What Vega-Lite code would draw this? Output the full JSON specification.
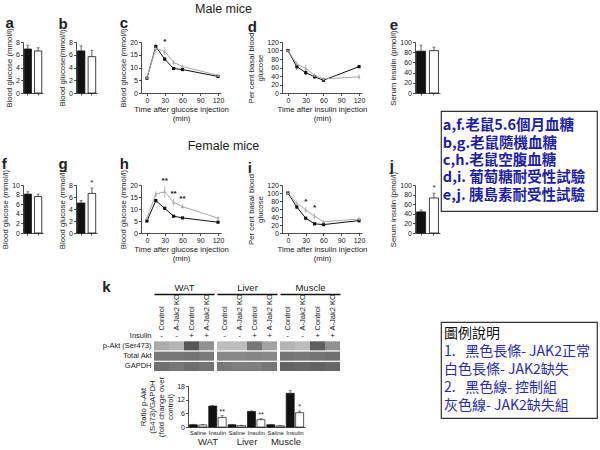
{
 "$schema": "https://vega.github.io/schema/vega-lite/v6.json",
 "padding": {"left": 1, "top": 2, "right": 0, "bottom": 0},
 "background": "white",
 "spacing": 0,
 "resolve": {"scale": {"color": "independent"}},
 "hconcat": [
  {"spacing": 0, "vconcat": [
   {"columns": 9, "align": "none", "bounds": "flush", "spacing": 0, "concat": [
    {"title": "a", "width": 20, "height": 51,
     "data": {"values": [{"g": "Control", "v": 6.9, "hi": 7.5, "sig": ""}, {"g": "KO", "v": 6.6, "hi": 7.1, "sig": ""}]},
     "encoding": {"x": {"field": "g", "type": "nominal", "scale": {"domain": ["Control", "KO"], "paddingInner": 0.3, "paddingOuter": 0.12}, "axis": {"labels": false, "title": null, "tickSize": 2}},
       "y": {"field": "v", "type": "quantitative", "scale": {"domain": [0, 8]}, "axis": {"values": [0, 2, 4, 6, 8], "title": "Blood glucose (mmol/l)"}}},
     "layer": [
      {"mark": {"type": "bar", "stroke": "#111", "strokeWidth": 0.8}, "encoding": {"fill": {"field": "g", "type": "nominal", "scale": {"domain": ["Control", "KO"], "range": ["#111111", "#ffffff"]}, "legend": null}}},
      {"mark": {"type": "rule", "color": "#333", "strokeWidth": 0.8}, "encoding": {"y2": {"field": "hi"}}},
      {"mark": {"type": "tick", "color": "#333", "thickness": 0.8, "size": 3}, "encoding": {"y": {"field": "hi", "type": "quantitative"}}},
      {"mark": {"type": "text", "baseline": "bottom", "dy": -1, "fontSize": 8, "color": "#222"}, "encoding": {"y": {"field": "hi", "type": "quantitative"}, "text": {"field": "sig"}}}
     ]},
    {"width": 33, "height": 1, "data": {"values": []}, "mark": "point", "encoding": {}},
    {"title": "b", "width": 21, "height": 51,
     "data": {"values": [{"g": "Control", "v": 6.6, "hi": 7.4, "sig": ""}, {"g": "KO", "v": 5.7, "hi": 6.7, "sig": ""}]},
     "encoding": {"x": {"field": "g", "type": "nominal", "scale": {"domain": ["Control", "KO"], "paddingInner": 0.3, "paddingOuter": 0.12}, "axis": {"labels": false, "title": null, "tickSize": 2}},
       "y": {"field": "v", "type": "quantitative", "scale": {"domain": [0, 8]}, "axis": {"values": [0, 2, 4, 6, 8], "title": "Blood glucose(mmol/l)"}}},
     "layer": [
      {"mark": {"type": "bar", "stroke": "#111", "strokeWidth": 0.8}, "encoding": {"fill": {"field": "g", "type": "nominal", "scale": {"domain": ["Control", "KO"], "range": ["#111111", "#ffffff"]}, "legend": null}}},
      {"mark": {"type": "rule", "color": "#333", "strokeWidth": 0.8}, "encoding": {"y2": {"field": "hi"}}},
      {"mark": {"type": "tick", "color": "#333", "thickness": 0.8, "size": 3}, "encoding": {"y": {"field": "hi", "type": "quantitative"}}},
      {"mark": {"type": "text", "baseline": "bottom", "dy": -1, "fontSize": 8, "color": "#222"}, "encoding": {"y": {"field": "hi", "type": "quantitative"}, "text": {"field": "sig"}}}
     ]},
    {"width": 44, "height": 1, "data": {"values": []}, "mark": "point", "encoding": {}},
    {"title": "c", "width": 80, "height": 51,
     "data": {"values": [
      {"t": 0, "g": "Control", "v": 5.8, "lo": 5.4, "hi": 6.2, "sig": ""},
      {"t": 15, "g": "Control", "v": 18.2, "lo": 17.4, "hi": 19.0, "sig": ""},
      {"t": 30, "g": "Control", "v": 13.3, "lo": 12.6, "hi": 14.0, "sig": ""},
      {"t": 45, "g": "Control", "v": 9.6, "lo": 9.0, "hi": 10.2, "sig": ""},
      {"t": 60, "g": "Control", "v": 9.2, "lo": 8.7, "hi": 9.7, "sig": ""},
      {"t": 120, "g": "Control", "v": 6.5, "lo": 6.0, "hi": 7.0, "sig": ""},
      {"t": 0, "g": "KO", "v": 6.1, "lo": 5.6, "hi": 6.6, "sig": ""},
      {"t": 15, "g": "KO", "v": 17.6, "lo": 15.8, "hi": 19.5, "sig": ""},
      {"t": 30, "g": "KO", "v": 16.3, "lo": 14.8, "hi": 18.0, "sig": "*"},
      {"t": 45, "g": "KO", "v": 12.0, "lo": 11.0, "hi": 13.0, "sig": ""},
      {"t": 60, "g": "KO", "v": 10.4, "lo": 9.6, "hi": 11.2, "sig": ""},
      {"t": 120, "g": "KO", "v": 6.9, "lo": 6.3, "hi": 7.5, "sig": ""}]},
     "encoding": {
      "x": {"field": "t", "type": "quantitative", "scale": {"domain": [-10, 125], "nice": false}, "axis": {"values": [0, 30, 60, 90, 120], "title": ["Time after glucose injection", "(min)"]}},
      "y": {"field": "v", "type": "quantitative", "scale": {"domain": [0, 20]}, "axis": {"values": [0, 5, 10, 15, 20], "title": "Blood glucose (mmol/l)"}},
      "color": {"field": "g", "type": "nominal", "scale": {"domain": ["Control", "KO"], "range": ["#111111", "#aaaaaa"]}, "legend": null}},
     "layer": [
      {"mark": {"type": "rule", "strokeWidth": 0.8}, "encoding": {"y": {"field": "lo", "type": "quantitative"}, "y2": {"field": "hi"}}},
      {"mark": {"type": "line", "strokeWidth": 1}},
      {"mark": {"type": "point", "filled": true, "size": 10, "opacity": 1}, "encoding": {"shape": {"field": "g", "type": "nominal", "scale": {"domain": ["Control", "KO"], "range": ["square", "triangle-up"]}, "legend": null}}},
      {"mark": {"type": "text", "baseline": "bottom", "dy": -1, "fontSize": 8, "fontWeight": "bold"}, "encoding": {"y": {"field": "hi", "type": "quantitative"}, "text": {"field": "sig"}, "color": {"value": "#111"}}}
     ]},
    {"width": 61, "height": 1, "data": {"values": []}, "mark": "point", "encoding": {},
     "title": {"text": "Male mice", "anchor": "middle", "frame": "group", "orient": "top", "offset": 27, "fontSize": 12.5, "fontWeight": "normal", "dx": -28}},
    {"title": "d", "width": 80, "height": 51,
     "data": {"values": [
      {"t": 0, "g": "Control", "v": 100, "lo": 100, "hi": 100, "sig": ""},
      {"t": 15, "g": "Control", "v": 62, "lo": 55, "hi": 69, "sig": ""},
      {"t": 30, "g": "Control", "v": 48, "lo": 42, "hi": 54, "sig": ""},
      {"t": 45, "g": "Control", "v": 38, "lo": 34, "hi": 42, "sig": ""},
      {"t": 60, "g": "Control", "v": 30, "lo": 27, "hi": 33, "sig": ""},
      {"t": 120, "g": "Control", "v": 62, "lo": 59, "hi": 65, "sig": ""},
      {"t": 0, "g": "KO", "v": 100, "lo": 100, "hi": 100, "sig": ""},
      {"t": 15, "g": "KO", "v": 68, "lo": 62, "hi": 75, "sig": ""},
      {"t": 30, "g": "KO", "v": 58, "lo": 50, "hi": 66, "sig": ""},
      {"t": 45, "g": "KO", "v": 42, "lo": 37, "hi": 47, "sig": ""},
      {"t": 60, "g": "KO", "v": 33, "lo": 29, "hi": 37, "sig": ""},
      {"t": 120, "g": "KO", "v": 38, "lo": 32, "hi": 44, "sig": ""}]},
     "encoding": {
      "x": {"field": "t", "type": "quantitative", "scale": {"domain": [-10, 125], "nice": false}, "axis": {"values": [0, 30, 60, 90, 120], "title": ["Time after insulin injection", "(min)"]}},
      "y": {"field": "v", "type": "quantitative", "scale": {"domain": [0, 120]}, "axis": {"values": [0, 20, 40, 60, 80, 100, 120], "title": ["Per cent basal blood", "glucose"]}},
      "color": {"field": "g", "type": "nominal", "scale": {"domain": ["Control", "KO"], "range": ["#111111", "#aaaaaa"]}, "legend": null}},
     "layer": [
      {"mark": {"type": "rule", "strokeWidth": 0.8}, "encoding": {"y": {"field": "lo", "type": "quantitative"}, "y2": {"field": "hi"}}},
      {"mark": {"type": "line", "strokeWidth": 1}},
      {"mark": {"type": "point", "filled": true, "size": 10, "opacity": 1}, "encoding": {"shape": {"field": "g", "type": "nominal", "scale": {"domain": ["Control", "KO"], "range": ["square", "triangle-up"]}, "legend": null}}},
      {"mark": {"type": "text", "baseline": "bottom", "dy": -1, "fontSize": 8, "fontWeight": "bold"}, "encoding": {"y": {"field": "hi", "type": "quantitative"}, "text": {"field": "sig"}, "color": {"value": "#111"}}}
     ]},
    {"width": 53, "height": 1, "data": {"values": []}, "mark": "point", "encoding": {}},
    {"title": "e", "width": 25, "height": 51,
     "data": {"values": [{"g": "Control", "v": 82, "hi": 94, "sig": ""}, {"g": "KO", "v": 83, "hi": 90, "sig": ""}]},
     "encoding": {"x": {"field": "g", "type": "nominal", "scale": {"domain": ["Control", "KO"], "paddingInner": 0.3, "paddingOuter": 0.12}, "axis": {"labels": false, "title": null, "tickSize": 2}},
       "y": {"field": "v", "type": "quantitative", "scale": {"domain": [0, 100]}, "axis": {"values": [0, 20, 40, 60, 80, 100], "title": "Serum insulin (pmol/l)"}}},
     "layer": [
      {"mark": {"type": "bar", "stroke": "#111", "strokeWidth": 0.8}, "encoding": {"fill": {"field": "g", "type": "nominal", "scale": {"domain": ["Control", "KO"], "range": ["#111111", "#ffffff"]}, "legend": null}}},
      {"mark": {"type": "rule", "color": "#333", "strokeWidth": 0.8}, "encoding": {"y2": {"field": "hi"}}},
      {"mark": {"type": "tick", "color": "#333", "thickness": 0.8, "size": 3}, "encoding": {"y": {"field": "hi", "type": "quantitative"}}},
      {"mark": {"type": "text", "baseline": "bottom", "dy": -1, "fontSize": 8, "color": "#222"}, "encoding": {"y": {"field": "hi", "type": "quantitative"}, "text": {"field": "sig"}}}
     ]},

    {"width": 20, "height": 92, "data": {"values": []}, "mark": "point", "encoding": {}},
    {"width": 33, "height": 1, "data": {"values": []}, "mark": "point", "encoding": {}},
    {"width": 21, "height": 1, "data": {"values": []}, "mark": "point", "encoding": {}},
    {"width": 44, "height": 1, "data": {"values": []}, "mark": "point", "encoding": {}},
    {"width": 80, "height": 1, "data": {"values": []}, "mark": "point", "encoding": {}},
    {"width": 61, "height": 1, "data": {"values": []}, "mark": "point", "encoding": {},
     "title": {"text": "Female mice", "anchor": "middle", "frame": "group", "orient": "bottom", "offset": 46, "fontSize": 12.5, "fontWeight": "normal", "dx": -28}},
    {"width": 80, "height": 1, "data": {"values": []}, "mark": "point", "encoding": {}},
    {"width": 53, "height": 1, "data": {"values": []}, "mark": "point", "encoding": {}},
    {"width": 25, "height": 1, "data": {"values": []}, "mark": "point", "encoding": {}},

    {"title": "f", "width": 20, "height": 48,
     "data": {"values": [{"g": "Control", "v": 8.1, "hi": 8.6, "sig": ""}, {"g": "KO", "v": 7.6, "hi": 8.1, "sig": ""}]},
     "encoding": {"x": {"field": "g", "type": "nominal", "scale": {"domain": ["Control", "KO"], "paddingInner": 0.3, "paddingOuter": 0.12}, "axis": {"labels": false, "title": null, "tickSize": 2}},
       "y": {"field": "v", "type": "quantitative", "scale": {"domain": [0, 10]}, "axis": {"values": [0, 2, 4, 6, 8, 10], "title": "Blood glucose (mmol/l)"}}},
     "layer": [
      {"mark": {"type": "bar", "stroke": "#111", "strokeWidth": 0.8}, "encoding": {"fill": {"field": "g", "type": "nominal", "scale": {"domain": ["Control", "KO"], "range": ["#111111", "#ffffff"]}, "legend": null}}},
      {"mark": {"type": "rule", "color": "#333", "strokeWidth": 0.8}, "encoding": {"y2": {"field": "hi"}}},
      {"mark": {"type": "tick", "color": "#333", "thickness": 0.8, "size": 3}, "encoding": {"y": {"field": "hi", "type": "quantitative"}}},
      {"mark": {"type": "text", "baseline": "bottom", "dy": -1, "fontSize": 8, "color": "#222"}, "encoding": {"y": {"field": "hi", "type": "quantitative"}, "text": {"field": "sig"}}}
     ]},
    {"width": 33, "height": 1, "data": {"values": []}, "mark": "point", "encoding": {}},
    {"title": "g", "width": 21, "height": 48,
     "data": {"values": [{"g": "Control", "v": 5.0, "hi": 5.4, "sig": ""}, {"g": "KO", "v": 6.6, "hi": 7.5, "sig": "*"}]},
     "encoding": {"x": {"field": "g", "type": "nominal", "scale": {"domain": ["Control", "KO"], "paddingInner": 0.3, "paddingOuter": 0.12}, "axis": {"labels": false, "title": null, "tickSize": 2}},
       "y": {"field": "v", "type": "quantitative", "scale": {"domain": [0, 8]}, "axis": {"values": [0, 2, 4, 6, 8], "title": "Blood glucose (mmol/l)"}}},
     "layer": [
      {"mark": {"type": "bar", "stroke": "#111", "strokeWidth": 0.8}, "encoding": {"fill": {"field": "g", "type": "nominal", "scale": {"domain": ["Control", "KO"], "range": ["#111111", "#ffffff"]}, "legend": null}}},
      {"mark": {"type": "rule", "color": "#333", "strokeWidth": 0.8}, "encoding": {"y2": {"field": "hi"}}},
      {"mark": {"type": "tick", "color": "#333", "thickness": 0.8, "size": 3}, "encoding": {"y": {"field": "hi", "type": "quantitative"}}},
      {"mark": {"type": "text", "baseline": "bottom", "dy": -1, "fontSize": 8, "color": "#222"}, "encoding": {"y": {"field": "hi", "type": "quantitative"}, "text": {"field": "sig"}}}
     ]},
    {"width": 44, "height": 1, "data": {"values": []}, "mark": "point", "encoding": {}},
    {"title": "h", "width": 80, "height": 48,
     "data": {"values": [
      {"t": 0, "g": "Control", "v": 5.0, "lo": 4.7, "hi": 5.3, "sig": ""},
      {"t": 15, "g": "Control", "v": 13.5, "lo": 12.7, "hi": 14.3, "sig": ""},
      {"t": 30, "g": "Control", "v": 10.3, "lo": 9.8, "hi": 10.8, "sig": ""},
      {"t": 45, "g": "Control", "v": 7.0, "lo": 6.7, "hi": 7.3, "sig": ""},
      {"t": 60, "g": "Control", "v": 6.3, "lo": 6.0, "hi": 6.6, "sig": ""},
      {"t": 120, "g": "Control", "v": 4.5, "lo": 4.2, "hi": 4.8, "sig": ""},
      {"t": 0, "g": "KO", "v": 6.2, "lo": 5.7, "hi": 6.7, "sig": ""},
      {"t": 15, "g": "KO", "v": 16.2, "lo": 15.0, "hi": 17.4, "sig": ""},
      {"t": 30, "g": "KO", "v": 17.2, "lo": 14.7, "hi": 19.7, "sig": "**"},
      {"t": 45, "g": "KO", "v": 12.8, "lo": 11.3, "hi": 14.3, "sig": "**"},
      {"t": 60, "g": "KO", "v": 11.0, "lo": 10.0, "hi": 12.0, "sig": "**"},
      {"t": 120, "g": "KO", "v": 6.2, "lo": 5.6, "hi": 6.8, "sig": ""}]},
     "encoding": {
      "x": {"field": "t", "type": "quantitative", "scale": {"domain": [-10, 125], "nice": false}, "axis": {"values": [0, 30, 60, 90, 120], "title": ["Time after glucose injection", "(min)"]}},
      "y": {"field": "v", "type": "quantitative", "scale": {"domain": [0, 20]}, "axis": {"values": [0, 5, 10, 15, 20], "title": "Blood glucose (mmol/l)"}},
      "color": {"field": "g", "type": "nominal", "scale": {"domain": ["Control", "KO"], "range": ["#111111", "#aaaaaa"]}, "legend": null}},
     "layer": [
      {"mark": {"type": "rule", "strokeWidth": 0.8}, "encoding": {"y": {"field": "lo", "type": "quantitative"}, "y2": {"field": "hi"}}},
      {"mark": {"type": "line", "strokeWidth": 1}},
      {"mark": {"type": "point", "filled": true, "size": 10, "opacity": 1}, "encoding": {"shape": {"field": "g", "type": "nominal", "scale": {"domain": ["Control", "KO"], "range": ["square", "triangle-up"]}, "legend": null}}},
      {"mark": {"type": "text", "baseline": "bottom", "dy": -1, "fontSize": 8, "fontWeight": "bold"}, "encoding": {"y": {"field": "hi", "type": "quantitative"}, "text": {"field": "sig"}, "color": {"value": "#111"}}}
     ]},
    {"width": 61, "height": 1, "data": {"values": []}, "mark": "point", "encoding": {}},
    {"title": "i", "width": 80, "height": 48,
     "data": {"values": [
      {"t": 0, "g": "Control", "v": 100, "lo": 100, "hi": 100, "sig": ""},
      {"t": 15, "g": "Control", "v": 65, "lo": 61, "hi": 69, "sig": ""},
      {"t": 30, "g": "Control", "v": 37, "lo": 34, "hi": 40, "sig": ""},
      {"t": 45, "g": "Control", "v": 23, "lo": 21, "hi": 25, "sig": ""},
      {"t": 60, "g": "Control", "v": 21, "lo": 19, "hi": 23, "sig": ""},
      {"t": 120, "g": "Control", "v": 31, "lo": 26, "hi": 36, "sig": ""},
      {"t": 0, "g": "KO", "v": 100, "lo": 100, "hi": 100, "sig": ""},
      {"t": 15, "g": "KO", "v": 75, "lo": 69, "hi": 81, "sig": ""},
      {"t": 30, "g": "KO", "v": 58, "lo": 50, "hi": 66, "sig": "*"},
      {"t": 45, "g": "KO", "v": 42, "lo": 35, "hi": 49, "sig": "*"},
      {"t": 60, "g": "KO", "v": 28, "lo": 24, "hi": 32, "sig": ""},
      {"t": 120, "g": "KO", "v": 35, "lo": 29, "hi": 41, "sig": ""}]},
     "encoding": {
      "x": {"field": "t", "type": "quantitative", "scale": {"domain": [-10, 125], "nice": false}, "axis": {"values": [0, 30, 60, 90, 120], "title": ["Time after insulin injection", "(min)"]}},
      "y": {"field": "v", "type": "quantitative", "scale": {"domain": [0, 120]}, "axis": {"values": [0, 20, 40, 60, 80, 100, 120], "title": ["Per cent basal blood", "glucose"]}},
      "color": {"field": "g", "type": "nominal", "scale": {"domain": ["Control", "KO"], "range": ["#111111", "#aaaaaa"]}, "legend": null}},
     "layer": [
      {"mark": {"type": "rule", "strokeWidth": 0.8}, "encoding": {"y": {"field": "lo", "type": "quantitative"}, "y2": {"field": "hi"}}},
      {"mark": {"type": "line", "strokeWidth": 1}},
      {"mark": {"type": "point", "filled": true, "size": 10, "opacity": 1}, "encoding": {"shape": {"field": "g", "type": "nominal", "scale": {"domain": ["Control", "KO"], "range": ["square", "triangle-up"]}, "legend": null}}},
      {"mark": {"type": "text", "baseline": "bottom", "dy": -1, "fontSize": 8, "fontWeight": "bold"}, "encoding": {"y": {"field": "hi", "type": "quantitative"}, "text": {"field": "sig"}, "color": {"value": "#111"}}}
     ]},
    {"width": 53, "height": 1, "data": {"values": []}, "mark": "point", "encoding": {}},
    {"title": "j", "width": 25, "height": 48,
     "data": {"values": [{"g": "Control", "v": 44, "hi": 48, "sig": ""}, {"g": "KO", "v": 73, "hi": 83, "sig": "*"}]},
     "encoding": {"x": {"field": "g", "type": "nominal", "scale": {"domain": ["Control", "KO"], "paddingInner": 0.3, "paddingOuter": 0.12}, "axis": {"labels": false, "title": null, "tickSize": 2}},
       "y": {"field": "v", "type": "quantitative", "scale": {"domain": [0, 100]}, "axis": {"values": [0, 20, 40, 60, 80, 100], "title": "Serum insulin (pmol/l)"}}},
     "layer": [
      {"mark": {"type": "bar", "stroke": "#111", "strokeWidth": 0.8}, "encoding": {"fill": {"field": "g", "type": "nominal", "scale": {"domain": ["Control", "KO"], "range": ["#111111", "#ffffff"]}, "legend": null}}},
      {"mark": {"type": "rule", "color": "#333", "strokeWidth": 0.8}, "encoding": {"y2": {"field": "hi"}}},
      {"mark": {"type": "tick", "color": "#333", "thickness": 0.8, "size": 3}, "encoding": {"y": {"field": "hi", "type": "quantitative"}}},
      {"mark": {"type": "text", "baseline": "bottom", "dy": -1, "fontSize": 8, "color": "#222"}, "encoding": {"y": {"field": "hi", "type": "quantitative"}, "text": {"field": "sig"}}}
     ]}
   ]},
   {"width": 1, "height": 17, "data": {"values": []}, "mark": "point", "encoding": {}},
   {"bounds": "flush", "spacing": 0, "hconcat": [
    {"width": 131, "height": 1, "data": {"values": []}, "mark": "point", "encoding": {}},
    {"width": 60, "height": 40,
     "title": {"text": "k", "dy": 19, "offset": 6},
     "layer": [
      {"layer": [
        {"data": {"values": [
          {"lane": "C1", "row": "p-Akt (Ser473)", "int": 0.3}, {"lane": "K1", "row": "p-Akt (Ser473)", "int": 0.25}, {"lane": "C2", "row": "p-Akt (Ser473)", "int": 0.8}, {"lane": "K2", "row": "p-Akt (Ser473)", "int": 0.45},
          {"lane": "C1", "row": "Total Akt", "int": 0.6}, {"lane": "K1", "row": "Total Akt", "int": 0.6}, {"lane": "C2", "row": "Total Akt", "int": 0.62}, {"lane": "K2", "row": "Total Akt", "int": 0.58},
          {"lane": "C1", "row": "GAPDH", "int": 0.65}, {"lane": "K1", "row": "GAPDH", "int": 0.6}, {"lane": "C2", "row": "GAPDH", "int": 0.66}, {"lane": "K2", "row": "GAPDH", "int": 0.62}]},
         "mark": {"type": "rect"},
         "encoding": {
          "x": {"field": "lane", "type": "nominal", "scale": {"domain": ["C1", "K1", "C2", "K2"], "paddingInner": 0, "paddingOuter": 0}, "axis": {"orient": "top", "labelAngle": -90, "labelAlign": "left", "labelBaseline": "middle", "labelExpr": "indexof(datum.value, 'C') == 0 ? 'Control' : 'A-Jak2 KO'", "title": null, "domain": false, "ticks": false, "labelFontSize": 7.5, "labelPadding": 1}},
          "y": {"field": "row", "type": "nominal", "scale": {"domain": ["Insulin", "p-Akt (Ser473)", "Total Akt", "GAPDH"], "paddingInner": 0.12, "paddingOuter": 0}, "axis": {"title": null, "domain": false, "ticks": false, "labelFontSize": 7.5, "labelPadding": 3}},
          "fill": {"field": "int", "type": "quantitative", "scale": {"domain": [0, 1], "range": ["#e2e2e2", "#383838"]}, "legend": null}}},
        {"data": {"values": [{"lane": "C1", "ins": "-"}, {"lane": "K1", "ins": "-"}, {"lane": "C2", "ins": "+"}, {"lane": "K2", "ins": "+"}]},
         "mark": {"type": "text", "fontSize": 8, "color": "#222"},
         "encoding": {"x": {"field": "lane", "type": "nominal"}, "y": {"datum": "Insulin"}, "text": {"field": "ins"}}}
      ]},
      {"data": {"values": [{"grp": "WAT"}]},
       "mark": {"type": "text"},
       "encoding": {"x": {"field": "grp", "type": "nominal", "axis": {"orient": "top", "offset": 37, "domain": true, "domainWidth": 1.3, "domainColor": "#111", "ticks": false, "labels": false, "title": "WAT", "titleFontSize": 9.5, "titlePadding": 2}}}}
     ],
     "resolve": {"scale": {"x": "independent"}, "axis": {"x": "independent"}}},
    {"width": 3, "height": 1, "data": {"values": []}, "mark": "point", "encoding": {}},
    {"width": 60, "height": 40,
     "layer": [
      {"layer": [
        {"data": {"values": [
          {"lane": "C1", "row": "p-Akt (Ser473)", "int": 0.2}, {"lane": "K1", "row": "p-Akt (Ser473)", "int": 0.2}, {"lane": "C2", "row": "p-Akt (Ser473)", "int": 0.6}, {"lane": "K2", "row": "p-Akt (Ser473)", "int": 0.35},
          {"lane": "C1", "row": "Total Akt", "int": 0.5}, {"lane": "K1", "row": "Total Akt", "int": 0.5}, {"lane": "C2", "row": "Total Akt", "int": 0.52}, {"lane": "K2", "row": "Total Akt", "int": 0.5},
          {"lane": "C1", "row": "GAPDH", "int": 0.58}, {"lane": "K1", "row": "GAPDH", "int": 0.55}, {"lane": "C2", "row": "GAPDH", "int": 0.56}, {"lane": "K2", "row": "GAPDH", "int": 0.6}]},
         "mark": {"type": "rect"},
         "encoding": {
          "x": {"field": "lane", "type": "nominal", "scale": {"domain": ["C1", "K1", "C2", "K2"], "paddingInner": 0, "paddingOuter": 0}, "axis": {"orient": "top", "labelAngle": -90, "labelAlign": "left", "labelBaseline": "middle", "labelExpr": "indexof(datum.value, 'C') == 0 ? 'Control' : 'A-Jak2 KO'", "title": null, "domain": false, "ticks": false, "labelFontSize": 7.5, "labelPadding": 1}},
          "y": {"field": "row", "type": "nominal", "scale": {"domain": ["Insulin", "p-Akt (Ser473)", "Total Akt", "GAPDH"], "paddingInner": 0.12, "paddingOuter": 0}, "axis": null},
          "fill": {"field": "int", "type": "quantitative", "scale": {"domain": [0, 1], "range": ["#e2e2e2", "#383838"]}, "legend": null}}},
        {"data": {"values": [{"lane": "C1", "ins": "-"}, {"lane": "K1", "ins": "-"}, {"lane": "C2", "ins": "+"}, {"lane": "K2", "ins": "+"}]},
         "mark": {"type": "text", "fontSize": 8, "color": "#222"},
         "encoding": {"x": {"field": "lane", "type": "nominal"}, "y": {"datum": "Insulin"}, "text": {"field": "ins"}}}
      ]},
      {"data": {"values": [{"grp": "Liver"}]},
       "mark": {"type": "text"},
       "encoding": {"x": {"field": "grp", "type": "nominal", "axis": {"orient": "top", "offset": 37, "domain": true, "domainWidth": 1.3, "domainColor": "#111", "ticks": false, "labels": false, "title": "Liver", "titleFontSize": 9.5, "titlePadding": 2}}}}
     ],
     "resolve": {"scale": {"x": "independent"}, "axis": {"x": "independent"}}},
    {"width": 3, "height": 1, "data": {"values": []}, "mark": "point", "encoding": {}},
    {"width": 60, "height": 40,
     "layer": [
      {"layer": [
        {"data": {"values": [
          {"lane": "C1", "row": "p-Akt (Ser473)", "int": 0.25}, {"lane": "K1", "row": "p-Akt (Ser473)", "int": 0.2}, {"lane": "C2", "row": "p-Akt (Ser473)", "int": 0.75}, {"lane": "K2", "row": "p-Akt (Ser473)", "int": 0.45},
          {"lane": "C1", "row": "Total Akt", "int": 0.62}, {"lane": "K1", "row": "Total Akt", "int": 0.6}, {"lane": "C2", "row": "Total Akt", "int": 0.62}, {"lane": "K2", "row": "Total Akt", "int": 0.64},
          {"lane": "C1", "row": "GAPDH", "int": 0.72}, {"lane": "K1", "row": "GAPDH", "int": 0.7}, {"lane": "C2", "row": "GAPDH", "int": 0.72}, {"lane": "K2", "row": "GAPDH", "int": 0.7}]},
         "mark": {"type": "rect"},
         "encoding": {
          "x": {"field": "lane", "type": "nominal", "scale": {"domain": ["C1", "K1", "C2", "K2"], "paddingInner": 0, "paddingOuter": 0}, "axis": {"orient": "top", "labelAngle": -90, "labelAlign": "left", "labelBaseline": "middle", "labelExpr": "indexof(datum.value, 'C') == 0 ? 'Control' : 'A-Jak2 KO'", "title": null, "domain": false, "ticks": false, "labelFontSize": 7.5, "labelPadding": 1}},
          "y": {"field": "row", "type": "nominal", "scale": {"domain": ["Insulin", "p-Akt (Ser473)", "Total Akt", "GAPDH"], "paddingInner": 0.12, "paddingOuter": 0}, "axis": null},
          "fill": {"field": "int", "type": "quantitative", "scale": {"domain": [0, 1], "range": ["#e2e2e2", "#383838"]}, "legend": null}}},
        {"data": {"values": [{"lane": "C1", "ins": "-"}, {"lane": "K1", "ins": "-"}, {"lane": "C2", "ins": "+"}, {"lane": "K2", "ins": "+"}]},
         "mark": {"type": "text", "fontSize": 8, "color": "#222"},
         "encoding": {"x": {"field": "lane", "type": "nominal"}, "y": {"datum": "Insulin"}, "text": {"field": "ins"}}}
      ]},
      {"data": {"values": [{"grp": "Muscle"}]},
       "mark": {"type": "text"},
       "encoding": {"x": {"field": "grp", "type": "nominal", "axis": {"orient": "top", "offset": 37, "domain": true, "domainWidth": 1.3, "domainColor": "#111", "ticks": false, "labels": false, "title": "Muscle", "titleFontSize": 9.5, "titlePadding": 2}}}}
     ],
     "resolve": {"scale": {"x": "independent"}, "axis": {"x": "independent"}}}
   ]},
   {"width": 1, "height": 4, "data": {"values": []}, "mark": "point", "encoding": {}},
   {"bounds": "flush", "spacing": 0, "hconcat": [
    {"width": 165, "height": 1, "data": {"values": []}, "mark": "point", "encoding": {}},
    {"width": 117, "height": 41,
     "layer": [
      {"data": {"values": [
        {"cat": "WAT Saline", "g": "Control", "v": 1.0, "hi": 1.2, "sig": ""},
        {"cat": "WAT Saline", "g": "KO", "v": 0.9, "hi": 1.1, "sig": ""},
        {"cat": "WAT Insulin", "g": "Control", "v": 9.2, "hi": 9.5, "sig": ""},
        {"cat": "WAT Insulin", "g": "KO", "v": 4.2, "hi": 5.0, "sig": "**"},
        {"cat": "Liver Saline", "g": "Control", "v": 1.0, "hi": 1.2, "sig": ""},
        {"cat": "Liver Saline", "g": "KO", "v": 0.6, "hi": 0.8, "sig": ""},
        {"cat": "Liver Insulin", "g": "Control", "v": 6.8, "hi": 7.1, "sig": ""},
        {"cat": "Liver Insulin", "g": "KO", "v": 3.2, "hi": 3.7, "sig": "**"},
        {"cat": "Muscle Saline", "g": "Control", "v": 1.0, "hi": 1.2, "sig": ""},
        {"cat": "Muscle Saline", "g": "KO", "v": 0.5, "hi": 0.7, "sig": ""},
        {"cat": "Muscle Insulin", "g": "Control", "v": 14.8, "hi": 16.0, "sig": ""},
        {"cat": "Muscle Insulin", "g": "KO", "v": 6.3, "hi": 7.0, "sig": "*"}]},
       "encoding": {
        "x": {"field": "cat", "type": "nominal", "sort": null, "scale": {"domain": ["WAT Saline", "WAT Insulin", "Liver Saline", "Liver Insulin", "Muscle Saline", "Muscle Insulin"], "paddingInner": 0.1, "paddingOuter": 0.07}, "axis": {"labelExpr": "split(datum.value, ' ')[1]", "title": null, "ticks": false, "labelFontSize": 6, "labelPadding": 2}},
        "xOffset": {"field": "g", "type": "nominal", "scale": {"domain": ["Control", "KO"], "paddingInner": 0.15}},
        "y": {"field": "v", "type": "quantitative", "scale": {"domain": [0, 18]}, "axis": {"values": [0, 6, 12, 18], "title": ["Ratio p-Akt", "(S473)/GAPDH", "(fold change over", "control)"]}}},
       "layer": [
        {"mark": {"type": "bar", "stroke": "#111", "strokeWidth": 0.7}, "encoding": {"fill": {"field": "g", "type": "nominal", "scale": {"domain": ["Control", "KO"], "range": ["#111111", "#ffffff"]}, "legend": null}}},
        {"mark": {"type": "rule", "color": "#333", "strokeWidth": 0.7}, "encoding": {"y2": {"field": "hi"}}},
        {"mark": {"type": "tick", "color": "#333", "thickness": 0.7, "size": 3}, "encoding": {"y": {"field": "hi", "type": "quantitative"}}},
        {"mark": {"type": "text", "baseline": "bottom", "dy": -1, "fontSize": 7, "color": "#222"}, "encoding": {"y": {"field": "hi", "type": "quantitative"}, "text": {"field": "sig"}}}
       ]},
      {"data": {"values": [{"grp": "WAT"}, {"grp": "Liver"}, {"grp": "Muscle"}]},
       "mark": {"type": "text"},
       "encoding": {"x": {"field": "grp", "type": "nominal", "sort": null, "scale": {"domain": ["WAT", "Liver", "Muscle"]}, "axis": {"orient": "bottom", "offset": 9, "domain": false, "ticks": false, "title": null, "labelFontSize": 9.5, "labelPadding": 0}}}}
     ],
     "resolve": {"scale": {"x": "independent"}, "axis": {"x": "independent"}}}
   ]}
  ]},
  {"bounds": "flush", "spacing": 0, "vconcat": [
   {"width": 156, "height": 69, "data": {"values": []}, "mark": "point", "encoding": {}},
   {"width": 156, "height": 100,
    "view": {"stroke": "#333", "strokeWidth": 1.2, "fill": "#ffffff"},
    "data": {"values": [
     {"line": 1, "txt": "a,f.老鼠5.6個月血糖"},
     {"line": 2, "txt": "b,g.老鼠隨機血糖"},
     {"line": 3, "txt": "c,h.老鼠空腹血糖"},
     {"line": 4, "txt": "d,i. 葡萄糖耐受性試驗"},
     {"line": 5, "txt": "e,j. 胰島素耐受性試驗"}]},
    "mark": {"type": "text", "align": "left", "baseline": "middle", "font": "Noto Sans CJK TC", "fontSize": 14.5, "fontWeight": "bold", "color": "#1e1ea8"},
    "encoding": {
     "x": {"datum": 0, "type": "quantitative", "scale": {"domain": [-0.012, 1]}, "axis": null},
     "y": {"field": "line", "type": "ordinal", "scale": {"padding": 0.86}, "axis": null},
     "text": {"field": "txt"}}},
   {"width": 156, "height": 111, "data": {"values": []}, "mark": "point", "encoding": {}},
   {"width": 156, "height": 96,
    "view": {"stroke": "#333", "strokeWidth": 1.2, "fill": "#ffffff"},
    "data": {"values": [
     {"line": 1, "kind": "head", "txt": "圖例說明"},
     {"line": 2, "kind": "item", "txt": "1.\u00a0\u00a0\u00a0黑色長條- JAK2正常"},
     {"line": 3, "kind": "item", "txt": "\u3000\u00a0\u00a0白色長條- JAK2缺失"},
     {"line": 4, "kind": "item", "txt": "2.\u00a0\u00a0\u00a0黑色線- 控制組"},
     {"line": 5, "kind": "item", "txt": "\u3000\u00a0\u00a0灰色線- JAK2缺失組"}]},
    "mark": {"type": "text", "align": "left", "baseline": "middle", "font": "Noto Sans CJK TC", "fontSize": 14},
    "encoding": {
     "x": {"datum": 0, "type": "quantitative", "scale": {"domain": [-0.02, 1]}, "axis": null},
     "y": {"field": "line", "type": "ordinal", "scale": {"padding": 0.67}, "axis": null},
     "text": {"field": "txt"},
     "color": {"field": "kind", "type": "nominal", "scale": {"domain": ["head", "item"], "range": ["#111111", "#2b2bb5"]}, "legend": null}}}
  ]}
 ],
 "config": {
  "font": "Liberation Sans",
  "view": {"stroke": null},
  "axis": {"labelFontSize": 7, "titleFontSize": 7.8, "titleFontWeight": "normal", "labelColor": "#222", "titleColor": "#222", "domainColor": "#222", "tickColor": "#222", "tickSize": 2.5, "labelPadding": 1, "titlePadding": 2, "grid": false, "labelFlush": false, "labelOverlap": false, "titleLineHeight": 9, "domainWidth": 0.8, "tickWidth": 0.8},
  "axisX": {"labelAngle": 0},
  "title": {"anchor": "start", "frame": "bounds", "fontSize": 15, "fontWeight": "bold", "offset": -3, "color": "#222"}
 }
}
